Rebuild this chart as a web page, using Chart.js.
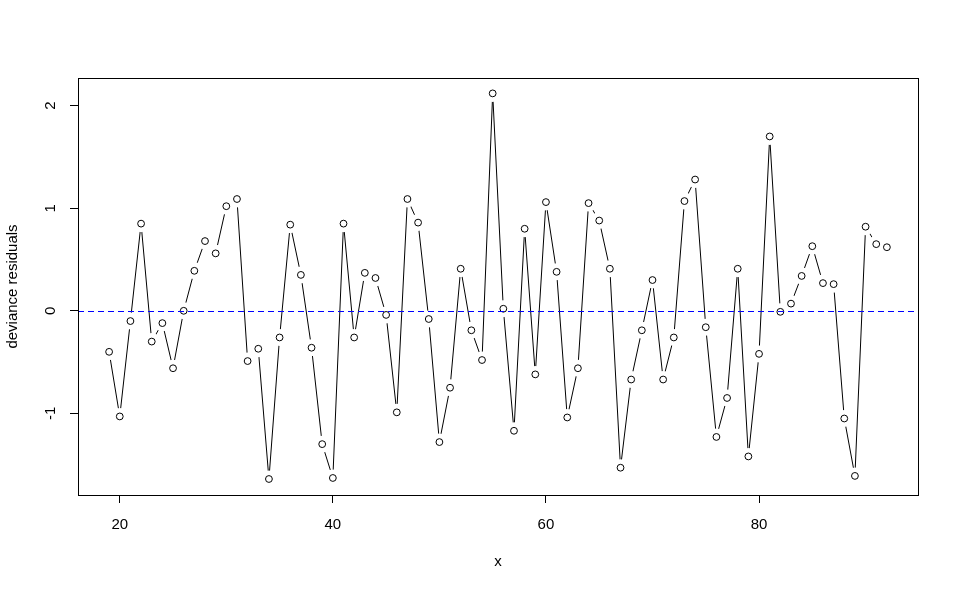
<!DOCTYPE html>
<html>
<head>
<meta charset="utf-8">
<script src="https://cdn.jsdelivr.net/npm/chart.js@4/dist/chart.umd.min.js"></script>
<style>
  body { margin: 0; background: #fff; }
  canvas { display: block; }
</style>
</head>
<body>
<canvas id="residChart" width="960" height="593"></canvas>
<script>
const xValues = [19, 20, 21, 22, 23, 24, 25, 26, 27, 28, 29, 30, 31, 32, 33, 34, 35, 36, 37,
    38, 39, 40, 41, 42, 43, 44, 45, 46, 47, 48, 49, 50, 51, 52, 53, 54, 55, 56,
    57, 58, 59, 60, 61, 62, 63, 64, 65, 66, 67, 68, 69, 70, 71, 72, 73, 74, 75,
    76, 77, 78, 79, 80, 81, 82, 83, 84, 85, 86, 87, 88, 89, 90, 91, 92];
const residuals = [-0.40, -1.03, -0.10, 0.85, -0.30, -0.12, -0.56, 0.00, 0.39, 0.68, 0.56, 1.02, 1.09,
    -0.49, -0.37, -1.64, -0.26, 0.84, 0.35, -0.36, -1.30, -1.63, 0.85, -0.26, 0.37, 0.32,
    -0.04, -0.99, 1.09, 0.86, -0.08, -1.28, -0.75, 0.41, -0.19, -0.48, 2.12, 0.02, -1.17,
    0.80, -0.62, 1.06, 0.38, -1.04, -0.56, 1.05, 0.88, 0.41, -1.53, -0.67, -0.19, 0.30,
    -0.67, -0.26, 1.07, 1.28, -0.16, -1.23, -0.85, 0.41, -1.42, -0.42, 1.70, -0.01, 0.07,
    0.34, 0.63, 0.27, 0.26, -1.05, -1.61, 0.82, 0.65, 0.62];
const xTicks = [20, 40, 60, 80];
const yTicks = [-1, 0, 1, 2];
const refLine = 0;

const fontFamily = '"Liberation Sans", Arial, sans-serif';

// each dataset gets its own copy of the points
function makePoints() {
    return xValues.map((x, i) => ({ x: x, y: residuals[i] }));
}

// box around plot + rotated y labels + dashed zero line (R style)
const rPlotStyle = {
    id: 'rPlotStyle',
    afterDatasetsDraw(chart) {
        const ctx = chart.ctx;
        const area = chart.chartArea;
        const yScale = chart.scales.y;
        ctx.save();
        const y0 = Math.round(yScale.getPixelForValue(refLine)) + 0.5;
        ctx.strokeStyle = '#0000ff';
        ctx.lineWidth = 1;
        ctx.setLineDash([6, 4]);
        ctx.beginPath();
        ctx.moveTo(area.left, y0);
        ctx.lineTo(area.right, y0);
        ctx.stroke();
        ctx.restore();
    },
    afterDraw(chart) {
        const ctx = chart.ctx;
        const area = chart.chartArea;
        const yScale = chart.scales.y;
        ctx.save();
        ctx.strokeStyle = '#000';
        ctx.lineWidth = 1;
        ctx.strokeRect(Math.round(area.left) + 0.5, Math.round(area.top) + 0.5,
            Math.round(area.right - area.left), Math.round(area.bottom - area.top));
        ctx.fillStyle = '#000';
        ctx.font = '15px ' + fontFamily;
        ctx.textAlign = 'center';
        ctx.textBaseline = 'middle';
        yScale.ticks.forEach(t => {
            ctx.save();
            ctx.translate(51, yScale.getPixelForValue(t.value));
            ctx.rotate(-Math.PI / 2);
            ctx.fillText(String(t.value), 0, 0);
            ctx.restore();
        });
        ctx.restore();
    }
};

new Chart(document.getElementById('residChart'), {
    type: 'line',
    data: {
        datasets: [
            {
                data: makePoints(),
                borderColor: '#000',
                borderWidth: 1,
                pointRadius: 0,
                tension: 0,
                order: 3
            },
            {
                // white discs make the gaps of R's type = "b"
                data: makePoints(),
                showLine: false,
                pointRadius: 8.5,
                pointBackgroundColor: '#fff',
                pointBorderColor: '#fff',
                pointBorderWidth: 0,
                order: 2
            },
            {
                data: makePoints(),
                showLine: false,
                pointRadius: 3.4,
                pointBackgroundColor: '#fff',
                pointBorderColor: '#000',
                pointBorderWidth: 1,
                order: 1
            }
        ]
    },
    options: {
        responsive: false,
        animation: false,
        events: [],
        devicePixelRatio: 1,
        layout: { padding: { top: 78, right: 42, left: 0, bottom: 0 } },
        plugins: {
            legend: { display: false },
            tooltip: { enabled: false }
        },
        scales: {
            x: {
                type: 'linear',
                min: 16.08,
                max: 94.92,
                afterBuildTicks: scale => { scale.ticks = xTicks.map(v => ({ value: v })); },
                afterFit: scale => { scale.height = 98; },
                ticks: {
                    color: '#000',
                    font: { family: fontFamily, size: 15 },
                    padding: 13,
                    maxRotation: 0
                },
                grid: {
                    drawOnChartArea: false,
                    drawTicks: true,
                    tickLength: 8,
                    color: '#000'
                },
                border: { display: true, color: '#000' },
                title: {
                    display: true,
                    text: 'x',
                    color: '#000',
                    font: { family: fontFamily, size: 15 },
                    padding: { top: 0, bottom: 22 }
                }
            },
            y: {
                type: 'linear',
                min: -1.796,
                max: 2.27,
                afterBuildTicks: scale => { scale.ticks = yTicks.map(v => ({ value: v })); },
                afterFit: scale => { scale.width = 78; },
                ticks: { display: false },
                grid: {
                    drawOnChartArea: false,
                    drawTicks: true,
                    tickLength: 8,
                    color: '#000'
                },
                border: { display: true, color: '#000' },
                title: {
                    display: true,
                    text: 'deviance residuals',
                    color: '#000',
                    font: { family: fontFamily, size: 15 },
                    padding: { top: 4, bottom: 0 }
                }
            }
        }
    },
    plugins: [rPlotStyle]
});
</script>
</body>
</html>
